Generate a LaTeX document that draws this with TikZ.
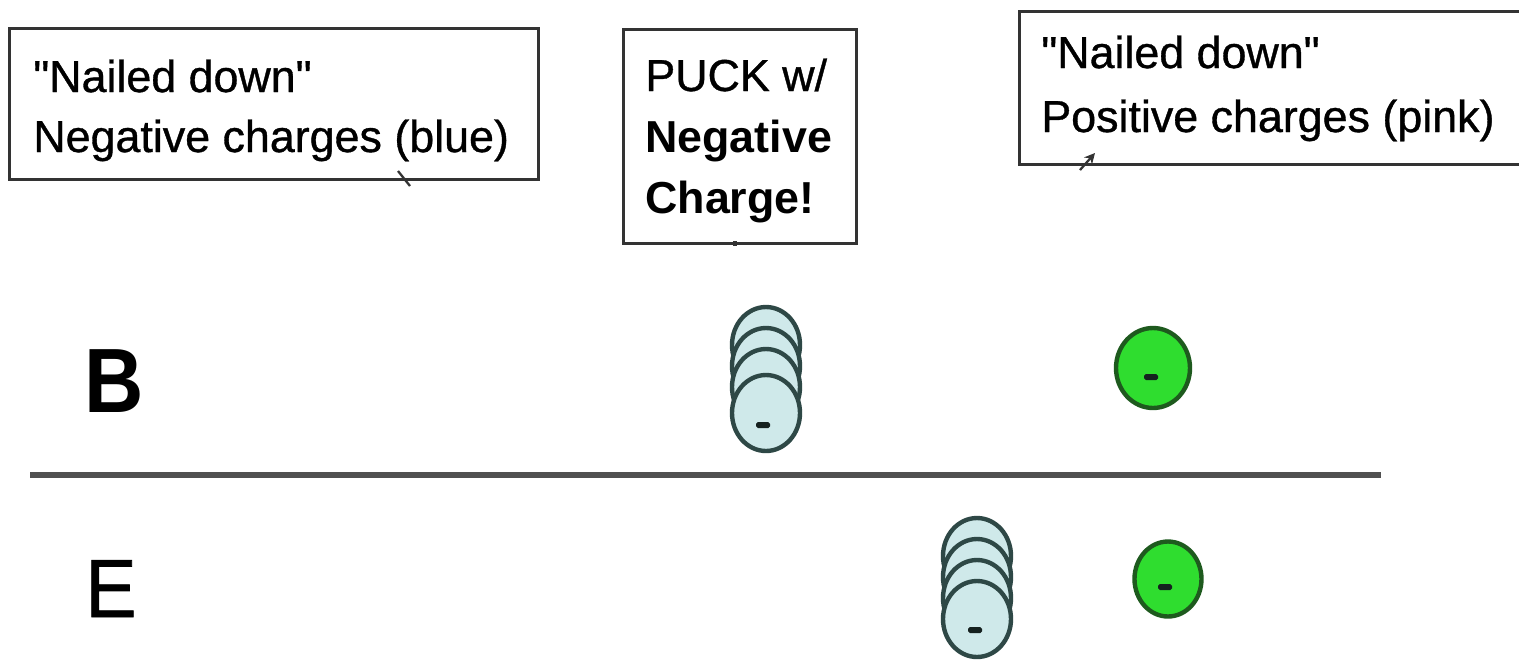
\documentclass[tikz,border=0pt]{standalone}
\usepackage{fontspec}
\setmainfont{Liberation Sans}
\newfontfamily\medfont{Liberation Sans}[FakeBold=0.8]
\usetikzlibrary{shapes.geometric,arrows.meta}
\definecolor{boxline}{HTML}{333333}
\definecolor{puckfill}{HTML}{CFE9EA}
\definecolor{puckline}{HTML}{2E4846}
\definecolor{greenfill}{HTML}{2FDD2F}
\definecolor{greenline}{HTML}{1E5A1E}
\definecolor{rulecol}{HTML}{505050}
\definecolor{minuscol}{HTML}{15211F}
\newcommand{\dq}{\symbol{34}}
\begin{document}
\begin{tikzpicture}[x=0.02cm,y=-0.02cm,
  box/.style={draw=boxline,line width=1.7pt,anchor=north west,inner sep=0pt,fill=white},
  lbl/.style={anchor=base west,inner sep=0pt,font=\fontsize{25.5}{30}\medfont},
  puck/.style={ellipse,draw=puckline,line width=2.5pt,fill=puckfill,minimum width=1.36cm,minimum height=1.52cm,inner sep=0pt},
  fixedq/.style={ellipse,draw=greenline,line width=2.5pt,fill=greenfill,inner sep=0pt},
  minussign/.style={rectangle,fill=minuscol,rounded corners=1pt,minimum width=0.28cm,minimum height=0.12cm,inner sep=0pt},
  leader/.style={draw=boxline,line width=1.3pt}]
\useasboundingbox (0,0) rectangle (1519,664);
\clip (0,0) rectangle (1519,664);
\fill[white] (0,0) rectangle (1519,664);

% boxes
\node[box,minimum width=10.58cm,minimum height=3.02cm] (box1) at (8,27) {};
\node[box,minimum width=4.66cm,minimum height=4.28cm] (box2) at (622,28) {};
\node[box,minimum width=10.6cm,minimum height=3.06cm] (box3) at (1018,10) {};

% box texts
\node[lbl] (t11) at (33,92) {\dq Nailed down\dq};
\node[lbl] (t12) at (33,152) {Negative charges (blue)};
\node[lbl] (t21) at (645,91) {PUCK w/};
\node[lbl,font=\fontsize{25.5}{30}\selectfont\bfseries] (t22) at (645,152) {Negative};
\node[lbl,font=\fontsize{25.5}{30}\selectfont\bfseries] (t23) at (645,213) {Charge!};
\node[lbl] (t31) at (1041,68) {\dq Nailed down\dq};
\node[lbl] (t32) at (1041,132) {Positive charges (pink)};

% leader stubs
\coordinate (l1a) at (398,171);
\coordinate (l1b) at (410,186);
\draw[leader] (l1a) -- (l1b);
\coordinate (l2a) at (735,241);
\coordinate (l2b) at (735,246);
\draw[leader,line width=2pt] (l2a) -- (l2b);
\coordinate (l3a) at (1080,170);
\coordinate (l3b) at (1095,153);
\draw[leader,-{Stealth[length=6pt,width=6pt]}] (l3a) -- (l3b);

% row labels
\node[anchor=base west,inner sep=0pt,font=\fontsize{52}{60}\selectfont\bfseries] (B) at (84,412) {\scalebox{0.9}[1]{B}};
\node[anchor=base west,inner sep=0pt,font=\fontsize{47}{56}\medfont] (E) at (85,617) {\scalebox{0.93}[1]{E}};

% dividing line
\coordinate (hl1) at (30,475);
\coordinate (hl2) at (1381,475);
\draw[rulecol,line width=2.9pt] (hl1) -- (hl2);

% puck stack B
\node[puck] (pb1) at (766,345) {};
\node[puck] (pb2) at (766,366) {};
\node[puck] (pb3) at (766,387) {};
\node[puck] (pb4) at (766,413) {};
\node[minussign] (mb) at (763,425) {};

% puck stack E
\node[puck] (pe1) at (977,556) {};
\node[puck] (pe2) at (977,577) {};
\node[puck] (pe3) at (977,598) {};
\node[puck] (pe4) at (977,619) {};
\node[minussign] (me) at (975,630) {};

% fixed charges
\node[fixedq,minimum width=1.48cm,minimum height=1.6cm] (gb) at (1153,368) {};
\node[minussign] (mgb) at (1151,377) {};
\node[fixedq,minimum width=1.34cm,minimum height=1.5cm] (ge) at (1168,579) {};
\node[minussign] (mge) at (1165,587) {};
\end{tikzpicture}
\end{document}
